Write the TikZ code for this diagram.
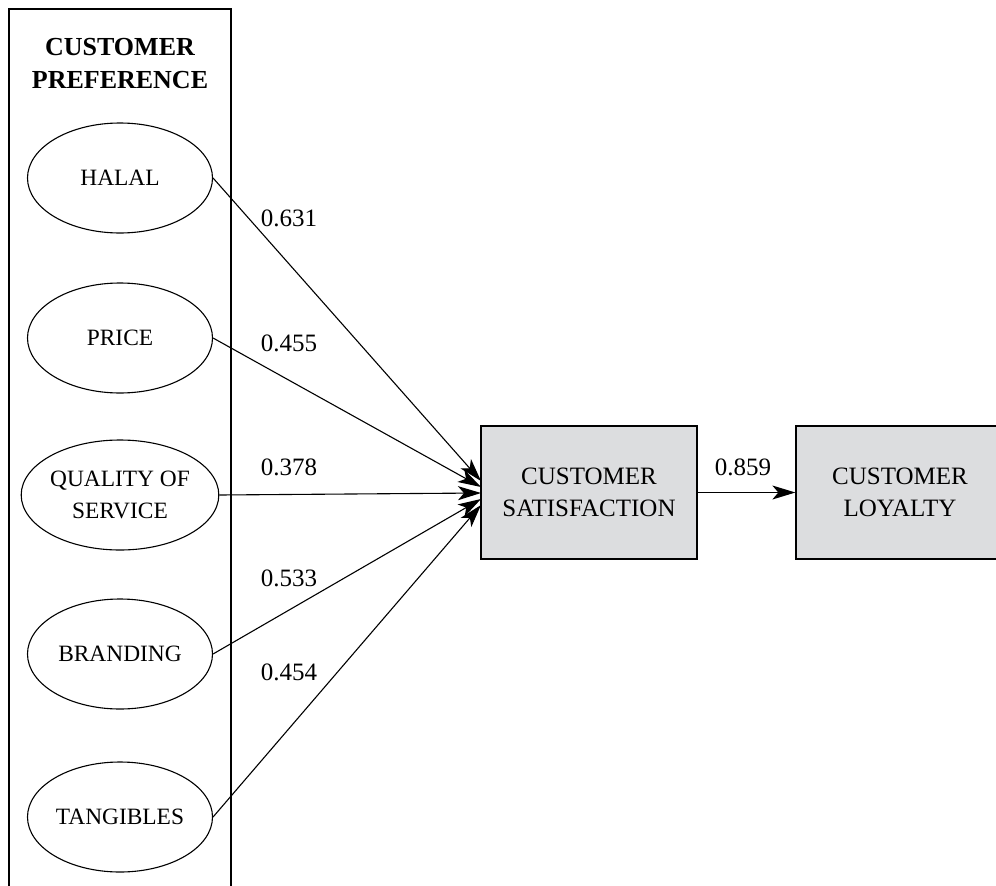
\documentclass[tikz,border=0pt]{standalone}
\usepackage{fontspec}
\setmainfont{Liberation Serif}
\usetikzlibrary{shapes.geometric,arrows.meta}
\definecolor{boxgray}{RGB}{220,221,223}
\begin{document}
\begin{tikzpicture}[x=1pt,y=-1pt,
  factor/.style={draw, ellipse, line width=1.1pt, minimum width=185pt, minimum height=110pt,
    inner sep=0pt, align=center, font=\fontsize{23.4}{31.5}\selectfont},
  construct/.style={draw, line width=1.3pt, fill=boxgray, minimum width=216pt,
    minimum height=133pt, inner sep=0pt, align=center, font=\fontsize{25}{32}\selectfont},
  coef/.style={font=\fontsize{25}{30}\selectfont, inner sep=0pt},
  link/.style={line width=1.1pt, -{Stealth[length=23pt,width=14pt,inset=6pt]}}]
\useasboundingbox (0,0) rectangle (996,886);
\clip (0,0) rectangle (996,886);

% frame around the preference factors
\draw[line width=1.3pt] (9,9) rectangle (231,900);
\node[align=center, font=\bfseries\fontsize{26}{33}\selectfont] (title) at (120,64)
  {CUSTOMER\\PREFERENCE};

% preference factors
\node[factor] (halal) at (120,178) {HALAL};
\node[factor] (price) at (120,338) {PRICE};
\node[factor] (qual)  at (120,495) {QUALITY OF\\SERVICE};
\node[factor] (brand) at (120,654) {BRANDING};
\node[factor] (tang)  at (120,817) {TANGIBLES};

% outcome constructs
\node[construct] (sat) at (589,492.5) {CUSTOMER\\SATISFACTION};
\node[construct, minimum width=208pt] (loy) at (900,492.5) {CUSTOMER\\LOYALTY};

% arrow tips on the satisfaction box
\coordinate (in1) at (481,481);
\coordinate (in2) at (481,487);
\coordinate (in3) at (481,493);
\coordinate (in4) at (481,499);
\coordinate (in5) at (481,505);

\draw[link] (halal.east) -- (in1);
\draw[link] (price.east) -- (in2);
\draw[link] (qual.east)  -- (in3);
\draw[link] (brand.east) -- (in4);
\draw[link] (tang.east)  -- (in5);
\draw[link] (sat.east) -- (loy.west);

% path coefficients
\node[coef] (c1) at (289,218) {0.631};
\node[coef] (c2) at (289,343) {0.455};
\node[coef] (c3) at (289,467) {0.378};
\node[coef] (c4) at (289,578) {0.533};
\node[coef] (c5) at (289,672) {0.454};
\node[coef] (c6) at (743,467) {0.859};
\end{tikzpicture}
\end{document}
